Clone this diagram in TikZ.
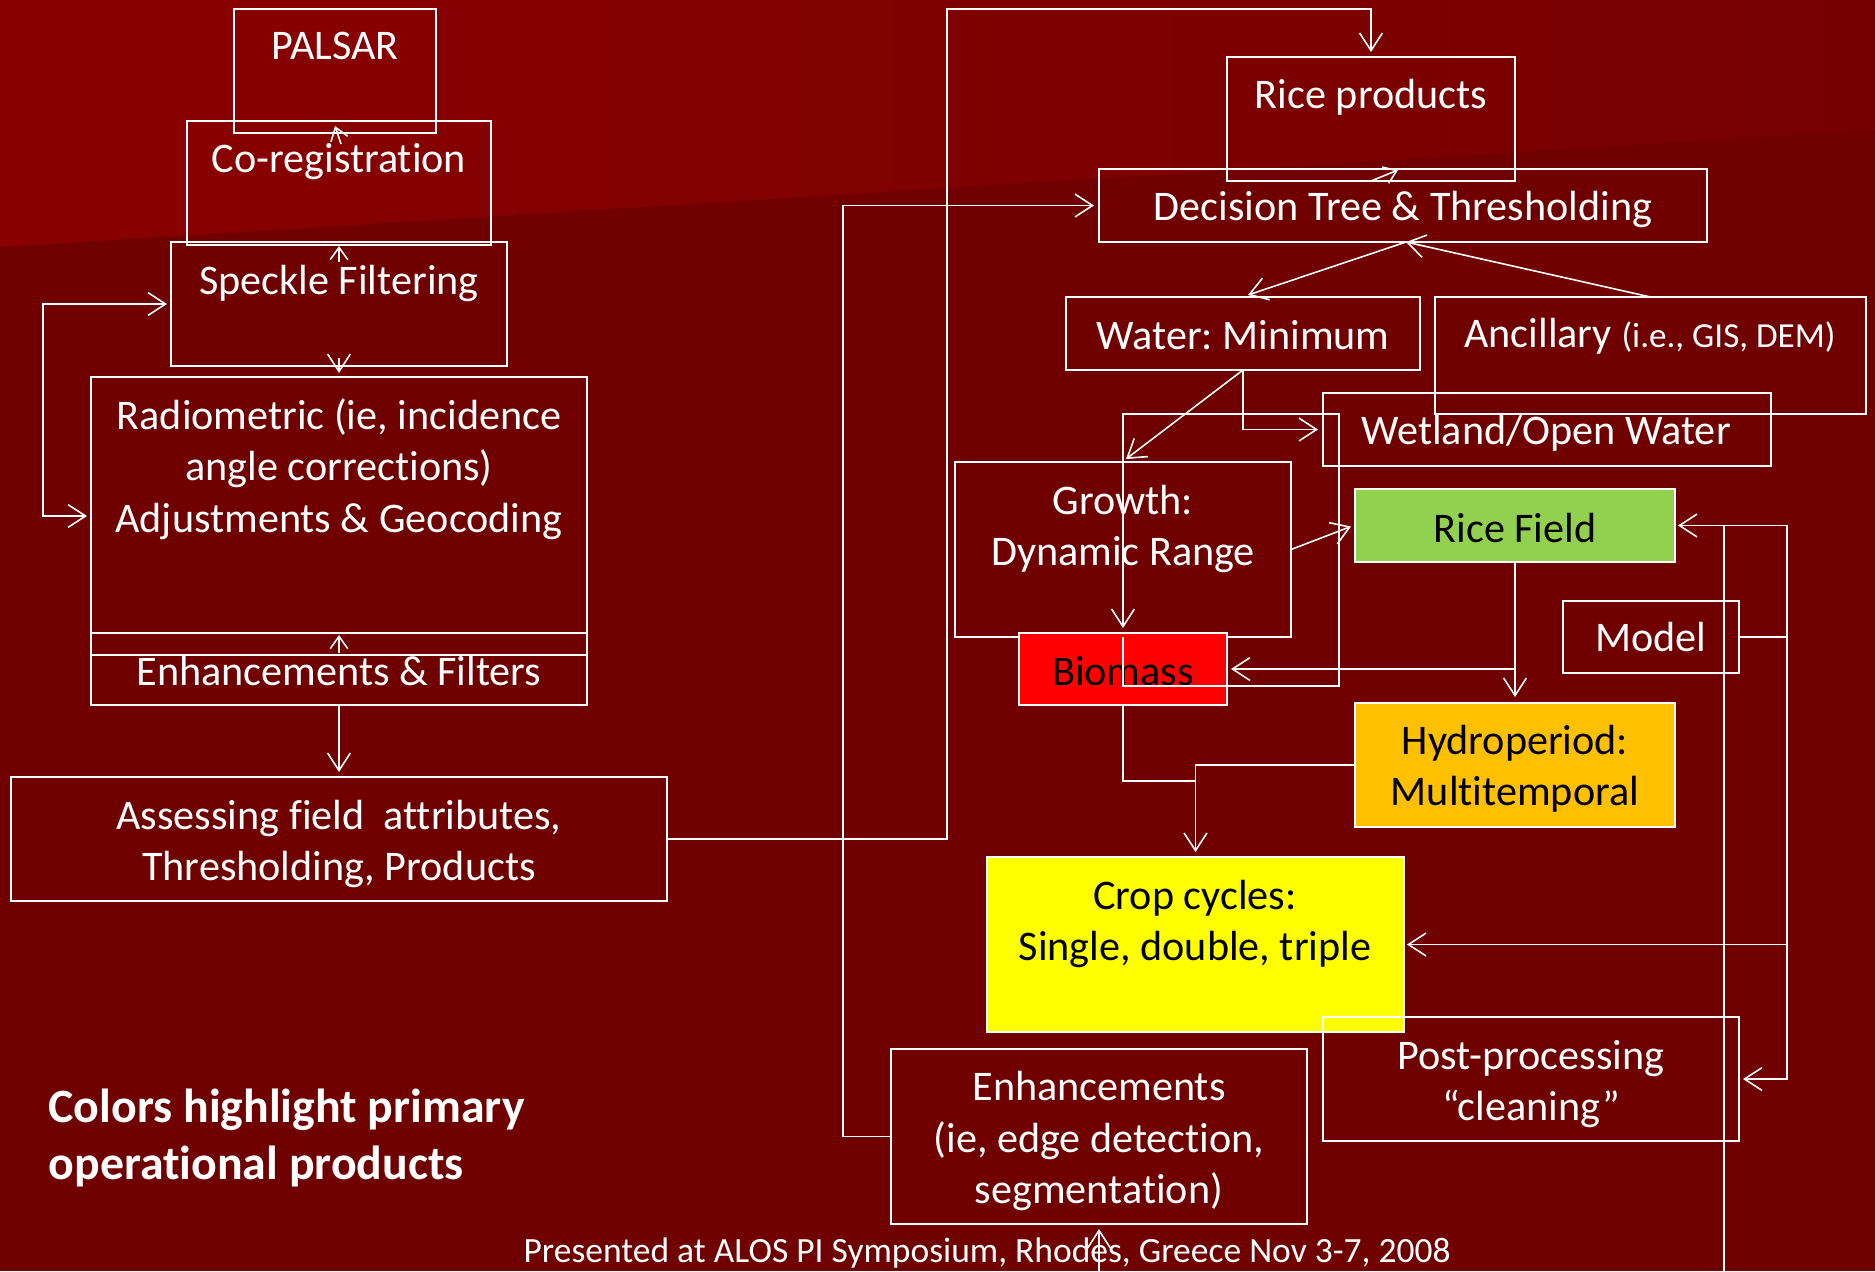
\documentclass[tikz,border=0pt]{standalone}
\usepackage{fontspec}
\setmainfont{Carlito}[Ligatures=NoCommon]
\usetikzlibrary{arrows.meta,calc}
\definecolor{bgdark}{HTML}{700000}
\definecolor{bglight}{HTML}{8A0000}
\definecolor{bgright}{HTML}{760000}
\definecolor{ricegreen}{HTML}{92D050}
\definecolor{hydroorange}{HTML}{FFC000}
\definecolor{cropyellow}{HTML}{FFFF00}
\definecolor{bioRed}{HTML}{FF0000}
\frenchspacing
\begin{document}
\begin{tikzpicture}[x=0.1mm,y=-0.1mm,
  bx/.style 2 args={draw=white,line width=0.6pt,inner sep=0pt,outer sep=0pt,
     minimum width=#1*0.1mm,minimum height=#2*0.1mm},
  txt/.style={text=white,align=center,inner sep=0pt,font=\fontsize{12}{14.6}\selectfont},
  btxt/.style={txt,text=black},
  con/.style={draw=white,line width=0.45pt},
  arr/.style={con,-{Straight Barb[length=5pt,width=6.5pt]}},
  sarr/.style={con,-{Straight Barb[length=3.5pt,width=5pt]}},
  darr/.style={con,{Straight Barb[length=5pt,width=6.5pt]}-{Straight Barb[length=5pt,width=6.5pt]}}]
\useasboundingbox (0,0) rectangle (1875,1271);
\clip (0,0) rectangle (1875,1271);
% background
\fill[bgdark] (0,0) rectangle (1875,1271);
\shade[left color=bglight,right color=bgright] (0,0) -- (1875,0) -- (1875,130) -- (0,247) -- cycle;

% ---------- left column boxes ----------
\node[bx={202}{124}] (palsar) at (335,71) {};
\node[bx={304}{124}] (coreg) at (339,183) {};
\node[bx={336}{124}] (speckle) at (339,304) {};
\node[bx={496}{278}] (radio) at (339,516) {};
\node[bx={496}{72}] (enhf) at (339,669) {};
\node[bx={656}{124}] (assess) at (339,839) {};

\node[txt] (palsart) at (335,46) {PALSAR};
\node[txt] (coregt) at (339,162) {Co-registration};
\node[txt] (specklet) at (339,283) {Speckle Filtering};
\node[txt] (radiot) at (339,469) {Radiometric (ie, incidence\\angle corrections)\\Adjustments \& Geocoding};
\node[txt] (enhft) at (339,671) {Enhancements \& Filters};
\node[txt] (assesst) at (339,844) {Assessing field\ \ attributes,\\Thresholding, Products};

% ---------- right part boxes ----------
\node[bx={288}{124}] (riceprod) at (1371,119) {};
\node[bx={608}{73}] (dec) at (1403,205.5) {};
\node[bx={354}{73}] (water) at (1243,333.5) {};
\node[bx={431}{117}] (anc) at (1650.5,355.5) {};
\node[bx={448}{73}] (wet) at (1547,429.5) {};
\node[bx={336}{175}] (growth) at (1123,549.5) {};
\node[bx={320}{73},fill=ricegreen] (ricef) at (1515,525.5) {};
\node[bx={208}{72},fill=bioRed] (bio) at (1123,669) {};
\node[bx={176}{72}] (model) at (1651,637) {};
\node[bx={320}{124},fill=hydroorange] (hydro) at (1515,765) {};
\node[bx={417}{175},fill=cropyellow] (crop) at (1195.5,944.5) {};
\node[bx={416}{124}] (post) at (1531,1079) {};
\node[bx={416}{175}] (enh2) at (1099,1136.5) {};

\node[txt] (riceprodt) at (1371,97) {Rice products};
\node[txt] (dect) at (1403,209) {Decision Tree \& Thresholding};
\node[txt] (watert) at (1243,335) {Water: Minimum};
\node[txt] (anct) at (1650,336) {Ancillary {\fontsize{10}{12}\selectfont(i.e., GIS, DEM)}};
\node[txt] (wett) at (1546,433) {Wetland/Open Water};
\node[txt] (growtht) at (1123,529) {Growth:\\Dynamic Range};
\node[btxt] (ricet) at (1515,528) {Rice Field};
\node[btxt] (biot) at (1123,671) {Biomass};
\node[txt] (modelt) at (1651,637) {Model};
\node[btxt] (hydrot) at (1515,769) {Hydroperiod:\\Multitemporal};
\node[btxt] (cropt) at (1195,924) {Crop cycles:\\Single, double, triple};
\node[txt] (postt) at (1531,1084) {Post-processing\\“cleaning”};
\node[txt] (enh2t) at (1099,1141) {Enhancements\\(ie, edge detection,\\segmentation)};

% notes
\node[txt,anchor=west,align=left,font=\fontsize{13.6}{16.2}\bfseries] (note) at (48,1138) {Colors highlight primary\\operational products};
\node[txt,anchor=base,font=\fontsize{10.1}{12}\selectfont] (footer) at (987,1262) {Presented at ALOS PI Symposium, Rhodes, Greece Nov 3-7, 2008};

% ---------- connectors ----------
\draw[sarr] ([shift={(6,11)}]palsar.south) -- ([shift={(0,-7)}]palsar.south);
\draw[sarr] ([shift={(0,20)}]speckle.north) -- ([shift={(0,4)}]speckle.north);
\draw[arr] ([shift={(0,-8)}]speckle.south) -- ([shift={(0,7)}]speckle.south);
\draw[darr] ([shift={(-4,0)}]speckle.west) -- ++(-124,0) |- ([shift={(-4,0)}]radio.west);
\draw[sarr] ([shift={(0,0)}]enhf.north) ++(0,20) -- ++(0,-18);
\draw[arr] (enhf.south) -- ([shift={(0,-5)}]assess.north);
\draw[arr] (assess.east) -- ++(280,0) -- ++(0,-830) -| ([shift={(0,-5)}]riceprod.north);
\draw[sarr] (riceprod.south) -- ([shift={(-5,1)}]dec.north);
\draw[arr] (enh2.west) -- ++(-48,0) |- ([shift={(-5,0)}]dec.west);
\draw[arr] ([shift={(3,0)}]dec.south) -- ([shift={(5,-2)}]water.north);
\draw[arr] (anc.north) -- ([shift={(3,0)}]dec.south);
\draw[arr] (water.south) |- ([shift={(-5,0)}]wet.west);
\draw[arr] (water.south) -- ([shift={(3,-3)}]growth.north);
\draw[arr] (growth.south) -- ++(0,49) -- ++(216,0) -- ++(0,-272) -| ([shift={(0,-5)}]bio.north);
\draw[arr] (growth.east) -- ([shift={(-4,1)}]ricef.west);
\draw[arr] (ricef.south) |- ([shift={(4,0)}]bio.east);
\draw[arr] (ricef.south) -- ([shift={(0,-6)}]hydro.north);
\draw[arr] (model.east) -- ++(48,0) |- ([shift={(3,0)}]ricef.east);
\draw[arr] (model.east) -- ++(48,0) |- ([shift={(3,0)}]crop.east);
\draw[arr] (model.east) -- ++(48,0) |- ([shift={(4,0)}]post.east);
\draw[con] ([shift={(49,0)}]ricef.east) -- ++(0,760);
\draw[arr] (hydro.west) -| ([shift={(0,-5)}]crop.north);
\draw[con] (bio.south) |- ([shift={(0,-76)}]crop.north);
\draw[arr] ([shift={(0,50)}]enh2.south) -- ([shift={(0,5)}]enh2.south);
\end{tikzpicture}
\end{document}
